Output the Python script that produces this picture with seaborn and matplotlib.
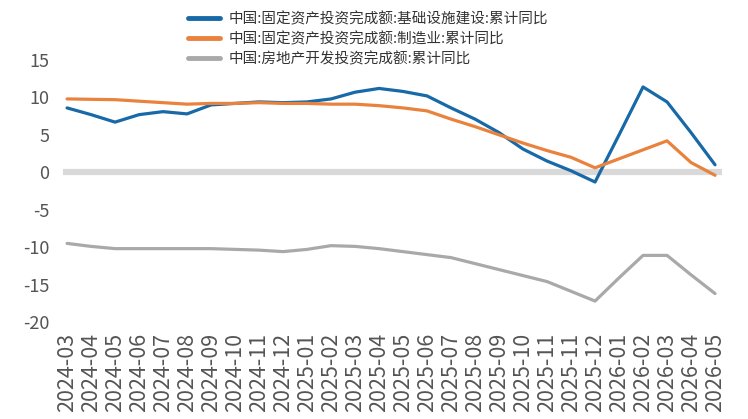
import numpy as np
import pandas as pd
from matplotlib import pyplot as plt
import seaborn as sns

months = [
    "2024-03", "2024-04", "2024-05", "2024-06", "2024-07", "2024-08", "2024-09",
    "2024-10", "2024-11", "2024-12", "2025-01", "2025-02", "2025-03", "2025-04",
    "2025-05", "2025-06", "2025-07", "2025-08", "2025-09", "2025-10", "2025-11",
    "2025-11", "2025-12", "2026-01", "2026-02", "2026-03", "2026-04", "2026-05",
]
infra = [8.6, 7.7, 6.7, 7.7, 8.1, 7.8, 9.0, 9.2, 9.4, 9.3, 9.4, 9.8, 10.7, 11.2,
         10.8, 10.2, 8.6, 7.1, 5.3, 3.1, 1.5, 0.2, -1.3, 5.0, 11.4, 9.4, 5.3, 1.0]
manuf = [9.8, 9.75, 9.7, 9.5, 9.3, 9.1, 9.2, 9.2, 9.3, 9.2, 9.2, 9.1, 9.1, 8.9,
         8.6, 8.2, 7.1, 6.1, 5.0, 3.9, 2.9, 2.0, 0.6, 1.8, 3.0, 4.2, 1.3, -0.4]
realty = [-9.5, -9.9, -10.2, -10.2, -10.2, -10.2, -10.2, -10.3, -10.4, -10.6, -10.3,
          -9.8, -9.9, -10.2, -10.6, -11.0, -11.4, -12.2, -13.0, -13.8, -14.6, -15.9,
          -17.2, -14.1, -11.1, -11.1, -13.7, -16.2]

names = [
    "中国:固定资产投资完成额:基础设施建设:累计同比",
    "中国:固定资产投资完成额:制造业:累计同比",
    "中国:房地产开发投资完成额:累计同比",
]
colors = ["#1769a8", "#e9823c", "#a9a9a9"]

df = pd.DataFrame({
    "x": np.tile(np.arange(len(months)), 3),
    "value": infra + manuf + realty,
    "series": np.repeat(names, len(months)),
})

sns.set_style("white")
plt.rcParams["font.family"] = ["Noto Sans CJK SC", "DejaVu Sans"]
plt.rcParams["axes.unicode_minus"] = False

fig = plt.figure(figsize=(7.48, 4.19), dpi=100)
ax = fig.add_axes([63 / 748, 97 / 419, 659 / 748, 262 / 419])

ax.axhline(0, color="#d9d9d9", lw=4.5, zorder=0)
sns.lineplot(data=df, x="x", y="value", hue="series", hue_order=names,
             palette=colors, lw=2.3, ax=ax, legend=False)

ax.set_xlim(-0.17, 27.29)
ax.set_ylim(-20, 15)
ax.set_yticks(range(-20, 16, 5))
ax.set_xticks(range(len(months)))
ax.set_xticklabels(months, rotation=90, fontsize=15.5, color="#555555")
ax.tick_params(axis="y", labelsize=13, labelcolor="#555555", length=0, pad=10)
ax.tick_params(axis="x", length=0, pad=8)
ax.set_xlabel("")
ax.set_ylabel("")
sns.despine(ax=ax, left=True, bottom=True)

handles = [plt.Line2D([], [], color=c, lw=3.5) for c in colors]
fig.legend(handles, names, loc="upper left", bbox_to_anchor=(0.243, 0.985),
           frameon=False, fontsize=10.5, labelcolor="#333333", handlelength=2.2,
           handletextpad=0.6, labelspacing=0.38, borderaxespad=0)

fig.savefig("out.png", dpi=100)
